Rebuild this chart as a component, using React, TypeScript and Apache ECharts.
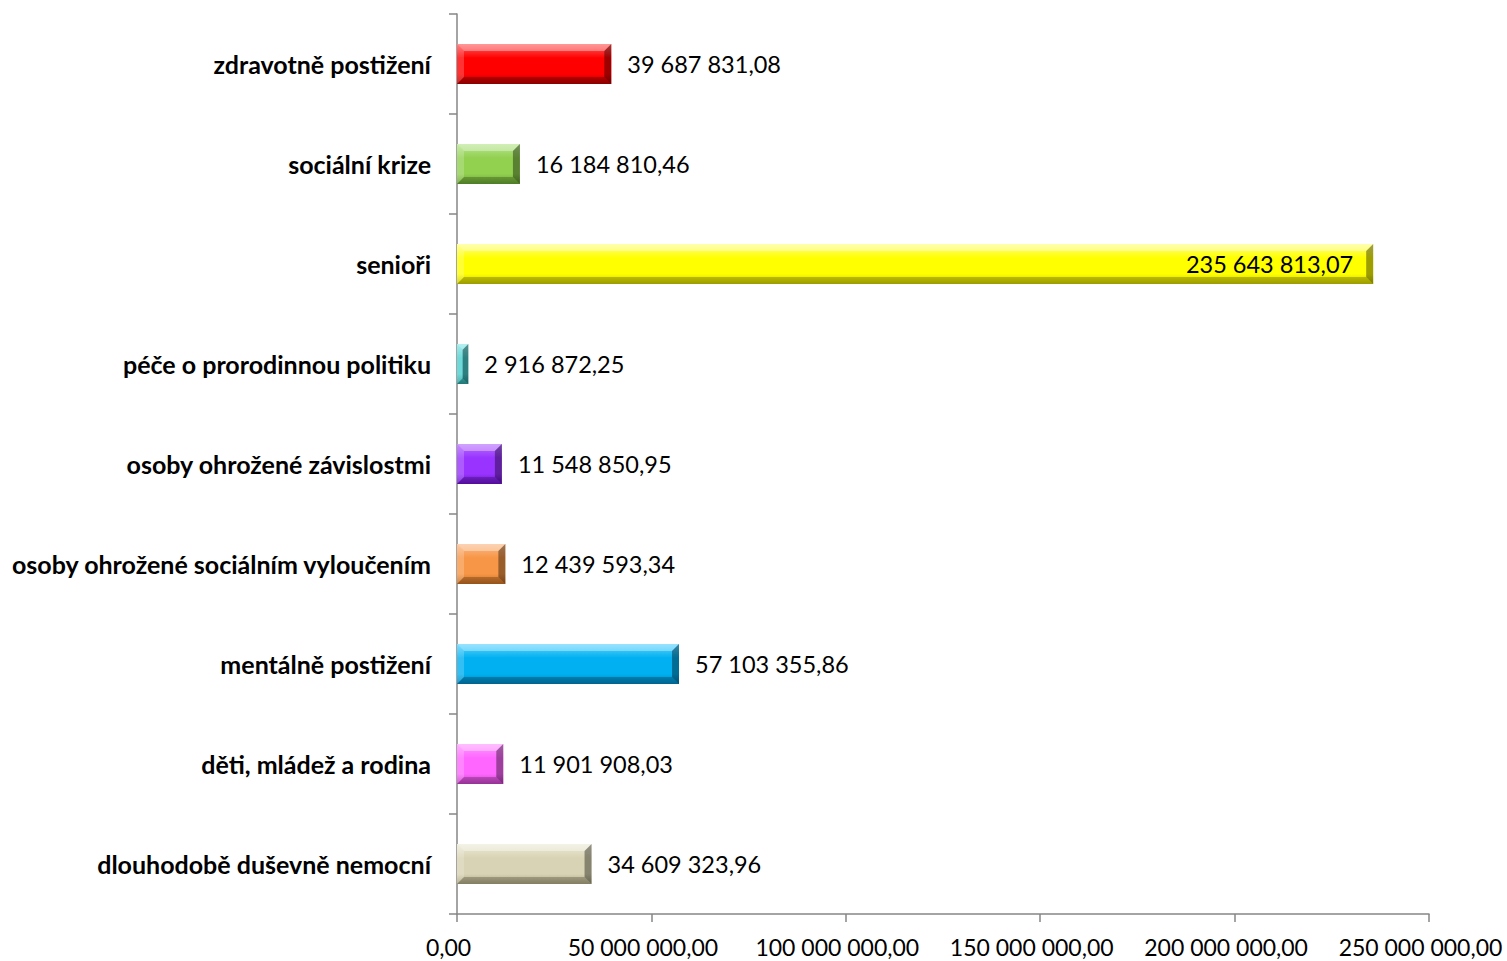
import React, { useEffect, useRef } from "react";
import * as echarts from "echarts";

const categories = [
  "dlouhodobě duševně nemocní",
  "děti, mládež a rodina",
  "mentálně postižení",
  "osoby ohrožené sociálním vyloučením",
  "osoby ohrožené závislostmi",
  "péče o prorodinnou politiku",
  "senioři",
  "sociální krize",
  "zdravotně postižení",
];
const values = [
  34609323.96, 11901908.03, 57103355.86, 12439593.34, 11548850.95, 2916872.25,
  235643813.07, 16184810.46, 39687831.08,
];
const colors = [
  ["#EEEBD8", "#D8D3B4", "#A8A27E"],
  ["#FF9CFF", "#FF66FF", "#C040C0"],
  ["#60D4FF", "#00B0F0", "#0080B8"],
  ["#FBBA88", "#F79646", "#C06A20"],
  ["#B870FF", "#9933FF", "#6A10C8"],
  ["#8FE8E8", "#4BCFCF", "#2A9A9A"],
  ["#FFFF80", "#FFFF00", "#C8C800"],
  ["#B8E690", "#92D050", "#64A030"],
  ["#FF6060", "#FF0000", "#B00000"],
];
const xTicks = { min: 0, max: 250000000, interval: 50000000 };

function fmt(v: number): string {
  const parts = v.toFixed(2).split(".");
  const int = parts[0].replace(/\B(?=(\d{3})+(?!\d))/g, " ");
  return int + "," + parts[1];
}

export default function App() {
  const ref = useRef<HTMLDivElement>(null);
  useEffect(() => {
    if (!ref.current) return;
    const chart = echarts.init(ref.current, undefined, { renderer: "svg" });
    const font = "Lato, 'Open Sans', sans-serif";
    chart.setOption({
      animation: false,
      backgroundColor: "#fff",
      grid: {
        left: 457,
        right: 78,
        top: 14,
        bottom: 47,
        containLabel: false,
        outerBoundsMode: "none",
      },
      xAxis: {
        type: "value",
        min: xTicks.min,
        max: xTicks.max,
        interval: xTicks.interval,
        splitLine: { show: false },
        axisLine: { show: true, lineStyle: { color: "#868686", width: 1.5 } },
        axisTick: { show: true, length: 8, lineStyle: { color: "#868686", width: 1.5 } },
        axisLabel: {
          color: "#000",
          fontSize: 23,
          fontFamily: font,
          margin: 21,
          padding: [0, 17, 0, 0],
          hideOverlap: false,
          formatter: (v: number) => fmt(v),
        },
      },
      yAxis: {
        type: "category",
        data: categories,
        axisLine: { show: true, lineStyle: { color: "#868686", width: 1.5 } },
        axisTick: { show: true, length: 8, lineStyle: { color: "#868686", width: 1.5 } },
        axisLabel: {
          color: "#000",
          fontSize: 25,
          fontWeight: "bold",
          fontFamily: font,
          margin: 26,
        },
        splitLine: { show: false },
      },
      series: [
        {
          type: "bar",
          barWidth: 40,
          data: values.map((v, i) => ({
            value: v,
            itemStyle: {
              color: new echarts.graphic.LinearGradient(0, 0, 0, 1, [
                { offset: 0, color: colors[i][0] },
                { offset: 0.35, color: colors[i][1] },
                { offset: 0.75, color: colors[i][1] },
                { offset: 1, color: colors[i][2] },
              ]),
            },
            label:
              v > 200000000
                ? { position: "insideRight", distance: 20 }
                : { position: "right", distance: 16 },
          })),
          label: {
            show: true,
            color: "#000",
            fontSize: 23.5,
            fontFamily: font,
            formatter: (p: any) => fmt(p.value),
          },
          z: 2,
        },
        {
          type: "custom",
          silent: true,
          z: 3,
          encode: { x: 0, y: 1 },
          data: values.map((v, i) => [v, i]),
          renderItem: (params: any, api: any) => {
            const v = api.value(0);
            const c = api.value(1);
            const s = api.coord([0, c]);
            const e = api.coord([v, c]);
            const h = 40;
            const x0 = s[0];
            const x1 = e[0];
            const y0 = e[1] - h / 2;
            const y1 = e[1] + h / 2;
            const b = Math.min(7, (x1 - x0) / 2);
            return {
              type: "group",
              children: [
                {
                  type: "polygon",
                  shape: { points: [[x0, y0], [x1, y0], [x1 - b, y0 + b], [x0 + b, y0 + b]] },
                  style: { fill: "rgba(255,255,255,0.35)" },
                },
                {
                  type: "polygon",
                  shape: { points: [[x0, y0], [x0 + b, y0 + b], [x0 + b, y1 - b], [x0, y1]] },
                  style: { fill: "rgba(255,255,255,0.2)" },
                },
                {
                  type: "polygon",
                  shape: { points: [[x0, y1], [x1, y1], [x1 - b, y1 - b], [x0 + b, y1 - b]] },
                  style: { fill: "rgba(0,0,0,0.22)" },
                },
                {
                  type: "polygon",
                  shape: { points: [[x1 - b, y0 + b], [x1, y0], [x1, y1], [x1 - b, y1 - b]] },
                  style: { fill: "rgba(0,0,0,0.38)" },
                },
              ],
            };
          },
        },
      ],
    });
    return () => chart.dispose();
  }, []);
  return (
    <div
      ref={ref}
      style={{ position: "absolute", left: 0, top: 0, width: 1507, height: 961 }}
    />
  );
}
